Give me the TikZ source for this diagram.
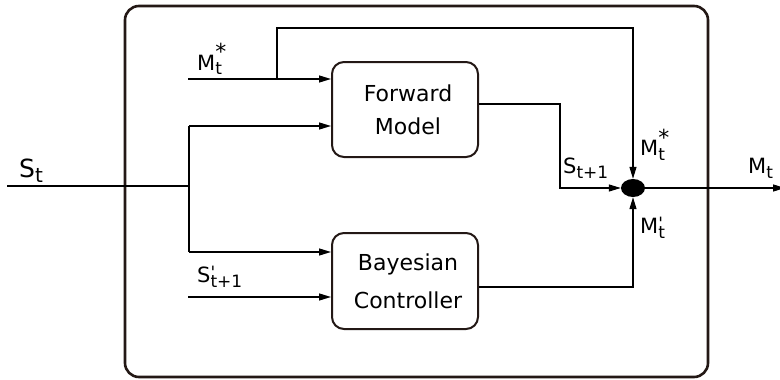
\documentclass[tikz,border=0pt]{standalone}
\usepackage{fontspec}
\setmainfont{DejaVu Sans}
\usetikzlibrary{arrows.meta,shapes.geometric}
\definecolor{boxcol}{HTML}{231815}
% sub/superscript sizes for the signal labels
\newcommand\subsz{\fontsize{17}{17}\selectfont}
\newcommand\starsz{\fontsize{22}{22}\selectfont}
% #1 base letter, #2 subscript, #3 mark above, #4 raise of the mark
\newcommand\symb[4]{#1\rlap{\raisebox{#4}{#3}}\raisebox{-5pt}{\subsz #2}}
\newcommand\strmark{\starsz *}
\newcommand\prmark{\subsz\textquotesingle}
\begin{document}
\begin{tikzpicture}[x=1pt,y=-1pt,
  wire/.style={line width=1.3pt, draw=black},
  arr/.style={wire, -{Triangle[length=12pt,width=7pt]}},
  block/.style={draw=boxcol, line width=2pt, rounded corners=12pt,
    minimum width=146pt, align=center, inner sep=0pt},
  lbl/.style={anchor=base west, inner sep=0pt, font=\fontsize{21}{25}\selectfont},
]
\useasboundingbox (0,0) rectangle (780,380);

% enclosing frame
\node[draw=boxcol, line width=2.6pt, rounded corners=14pt,
  minimum width=583pt, minimum height=371pt, inner sep=0pt] (frame) at (416.5,191.5) {};

% the two blocks
\node[block, minimum height=95pt, font=\fontsize{22}{33}\selectfont] (fm) at (405,109.5)
  {\hspace*{6pt}Forward\\\hspace*{6pt}Model};
\node[block, minimum height=96pt, font=\fontsize{22}{38}\selectfont] (bc) at (405,281)
  {\hspace*{6pt}Bayesian\\\hspace*{6pt}Controller};

% combining junction
\node[ellipse, fill=black, minimum width=24pt, minimum height=18pt, inner sep=0pt] (jn) at (633,188) {};

% helper points
\coordinate (in) at (7,186);
\coordinate (sp) at (189,186);
\coordinate (sp1) at (189,126);
\coordinate (sp2) at (189,252);
\coordinate (mi) at (188,79);
\coordinate (br) at (277,79);
\coordinate (top) at (277,28);
\coordinate (fo) at (560,104);
\coordinate (bo) at (633,287);
\coordinate (si) at (188,297);
\coordinate (out) at (785,188);

% state input split to both blocks
\draw[wire] (in) -- (sp);
\draw[wire] (sp1) -- (sp2);
\draw[arr] (sp1) -- (sp1 -| fm.west);
\draw[arr] (sp2) -- (sp2 -| bc.west);

% motor command input and its bypass
\draw[arr] (mi) -- (mi -| fm.west);
\draw[arr] (br) -- (top) -| (jn.north);

% desired next state into controller
\draw[arr] (si) -- (si -| bc.west);

% block outputs into the junction
\draw[arr] (fm.east |- fo) -- (fo) |- (jn.west);
\draw[arr] (bc.east |- bo) -- (bo) -- (jn.south);

% final output
\draw[arr] (jn.east) -- (out);

% signal labels
\node[lbl] at (197,70) {\symb{M}{t}{\strmark}{10pt}};
\node[lbl, font=\fontsize{25}{30}\selectfont] at (19,177) {S\raisebox{-5pt}{\fontsize{20}{20}\selectfont t}};
\node[lbl] at (197,282) {\symb{S}{t+1}{\prmark}{4pt}};
\node[lbl] at (563,173) {\symb{S}{t+1}{}{0pt}};
\node[lbl] at (640,155) {\symb{M}{t}{\strmark}{10pt}};
\node[lbl] at (640,233) {\symb{M}{t}{\prmark}{4pt}};
\node[lbl] at (748,173) {\symb{M}{t}{}{0pt}};
\end{tikzpicture}
\end{document}
